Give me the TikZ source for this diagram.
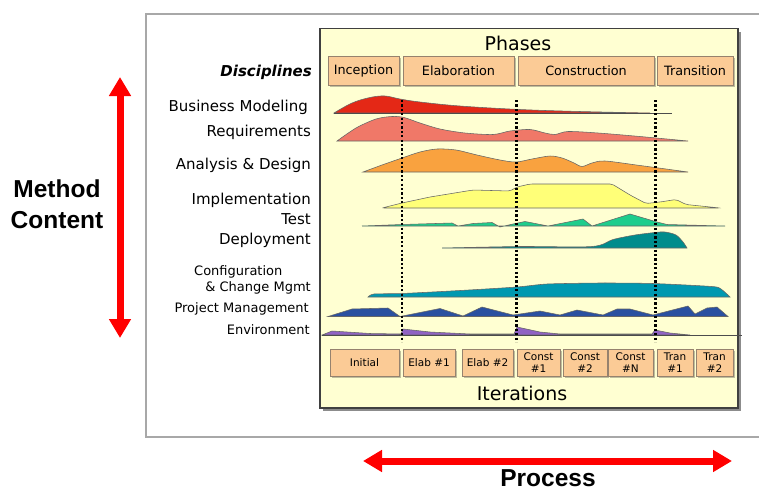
\documentclass[tikz,border=0pt]{standalone}
\usepackage{fontspec}
\setmainfont{DejaVu Sans}
\newfontfamily\arialfont{Liberation Sans}
\usetikzlibrary{arrows.meta,shadows}

\definecolor{panelfill}{RGB}{255,255,210}
\definecolor{peach}{RGB}{251,203,150}
\definecolor{boxedge}{RGB}{150,130,110}
\definecolor{framegray}{RGB}{168,168,168}
\definecolor{cBM}{RGB}{228,40,22}
\definecolor{cReq}{RGB}{240,120,104}
\definecolor{cAD}{RGB}{249,162,63}
\definecolor{cImpl}{RGB}{255,255,120}
\definecolor{cTest}{RGB}{30,205,140}
\definecolor{cDep}{RGB}{0,140,140}
\definecolor{cCfg}{RGB}{0,152,176}
\definecolor{cPM}{RGB}{42,80,160}
\definecolor{cEnv}{RGB}{144,98,196}
\definecolor{bigred}{RGB}{255,0,0}

\begin{document}
\begin{tikzpicture}[x=1pt,y=-1pt,
  phasebox/.style={draw=boxedge, line width=0.8pt, fill=peach, inner sep=0pt, minimum height=29pt,
    font=\fontsize{12.8}{14}\selectfont,
    drop shadow={shadow xshift=2pt, shadow yshift=-2pt, fill=black, opacity=0.25}},
  iterbox/.style={phasebox, minimum height=27pt, font=\fontsize{10.5}{12.5}\selectfont, align=center},
  disc/.style={anchor=base east, inner sep=0pt, font=\fontsize{15}{18}\selectfont},
  discsmall/.style={disc, font=\fontsize{13}{15}\selectfont},
  wave/.style={draw=black!60, line width=0.55pt},
  vdots/.style={line width=2.4pt, dash pattern=on 2.2pt off 2.2pt},
  bigarrow/.style={draw=bigred, line width=7pt, {Triangle[width=21pt,length=19pt]}-{Triangle[width=21pt,length=19pt]}},
  bigtext/.style={font=\arialfont\bfseries\fontsize{24.5}{28}\selectfont, inner sep=0pt, anchor=base}
]
\useasboundingbox (0,0) rectangle (759,491);
\fill[white] (0,0) rectangle (759,491);

% outer frame
\draw[framegray, line width=2pt] (759,14) -- (146,14) -- (146,437) -- (759,437);

% panel
\node[draw=black!75, line width=1.2pt, fill=panelfill, minimum width=418pt, minimum height=379.5pt, inner sep=0pt,
  drop shadow={shadow xshift=3pt, shadow yshift=-3pt, fill=black, opacity=0.45}] (panel) at (529,218.25) {};

\node (phases) at (518,43) {\fontsize{19}{22}\selectfont Phases};
\node (iters) at (522,393) {\fontsize{19}{22}\selectfont Iterations};

% discipline curves
\filldraw[wave, fill=cBM] plot[smooth, tension=0.6] coordinates {(334,113) (352,103) (370,97.5) (385,96) (400,99) (420,102) (460,106) (520,109.5) (580,111.5) (650,113)} -- cycle;
\draw[black!70, line width=0.6pt] (334,113) -- (672,113);

\filldraw[wave, fill=cReq] plot[smooth, tension=0.5] coordinates {(337,141) (356,128) (376,119) (392,116.5) (404,117.5) (420,123) (440,129) (465,133) (493,134.5) (510,131) (530,129.5) (545,133) (555,134.5) (568,131.5) (598,133) (640,136.5) (688,141)} -- cycle;

\filldraw[wave, fill=cAD] plot[smooth, tension=0.5] coordinates {(363,172) (382,165) (402,158) (420,152) (437,149) (456,150) (477,155) (500,160) (516,162) (532,159) (550,156) (562,158) (573,162.5) (582,166.5) (592,163) (605,161) (640,165.5) (688,172)} -- cycle;

\filldraw[wave, fill=cImpl, rounded corners=2pt] (382,208) -- (402,203) -- (430,197) -- (473,190) -- (510,191) -- (517,187) -- (530,184) -- (612,184) -- (630,195) -- (646,203.5) -- (660,202) -- (676,199.5) -- (686,204.5) -- (720,208) -- cycle;

\filldraw[wave, fill=cTest] (362,226) -- (402,224.5) -- (452,223) -- (458,226) -- (473,223.5) -- (492,222.5) -- (500,227) -- (513,224) -- (525,221.5) -- (548,226) -- (583,219) -- (592,226) -- (630,214) -- (657,222) -- (667,224.5) -- (725,226) -- cycle;

\filldraw[wave, fill=cDep] plot[smooth, tension=0.5] coordinates {(442,248) (520,246.5) (592,246.5) (613,239.5) (635,235) (655,232.5) (665,232) (676,235) (683,242) (687,248)} -- cycle;

\filldraw[wave, fill=cCfg] plot[smooth, tension=0.4] coordinates {(368,297) (374,294) (402,293.5) (460,290.5) (517,287) (547,284) (600,283) (653,283.5) (712,286.5) (721,289) (730,297)} -- cycle;

\filldraw[wave, fill=cPM] (328,316.5) -- (352,309) -- (388,308) -- (400,316.5) -- (440,308.5) -- (463,316) -- (482,307) -- (513,315) -- (540,311) -- (560,315) -- (577,310) -- (603,315) -- (617,309) -- (630,309) -- (653,315) -- (688,306) -- (695,314) -- (707,308) -- (717,307) -- (728,316.5) -- cycle;

\filldraw[wave, fill=cEnv] (322,335) -- (332,331) -- (370,333.5) -- (401,334) -- (403,329) -- (430,332) -- (470,334) -- (514,334) -- (517,327) -- (540,332) -- (560,334) -- (652,334) -- (655,330) -- (670,333) -- (690,335) -- cycle;
\draw[black!70, line width=0.6pt] (322,335) -- (742,335);

% milestone dotted lines
\draw[vdots] (402,100) -- (402,342);
\draw[vdots] (516.5,100) -- (516.5,342);
\draw[vdots] (655.5,100) -- (655.5,342);

% phases
\node[phasebox, minimum width=71pt] (inc) at (363.5,70.5) {Inception};
\node[phasebox, minimum width=111pt] (ela) at (458.5,70.5) {Elaboration};
\node[phasebox, minimum width=136pt] (con) at (586,70.5) {Construction};
\node[phasebox, minimum width=76pt] (tra) at (695,70.5) {Transition};

% iterations
\node[iterbox, minimum width=69pt] (it1) at (364.5,362.5) {Initial};
\node[iterbox, minimum width=52pt] (it2) at (429,362.5) {Elab \#1};
\node[iterbox, minimum width=51pt] (it3) at (487.5,362.5) {Elab \#2};
\node[iterbox, minimum width=43pt] (it4) at (538.5,362.5) {Const\\\#1};
\node[iterbox, minimum width=44pt] (it5) at (585,362.5) {Const\\\#2};
\node[iterbox, minimum width=45pt] (it6) at (630.5,362.5) {Const\\\#N};
\node[iterbox, minimum width=36pt] (it7) at (675,362.5) {Tran\\\#1};
\node[iterbox, minimum width=37pt] (it8) at (714.5,362.5) {Tran\\\#2};

% discipline labels
\node[disc, font=\bfseries\itshape\fontsize{15}{18}\selectfont] (disciplines) at (312,76.5) {Disciplines};
\node[disc] (bm) at (308,111) {Business Modeling};
\node[disc] (req) at (311,136.5) {Requirements};
\node[disc] (ad) at (311,169) {Analysis \& Design};
\node[disc] (impl) at (311,204.3) {Implementation};
\node[disc] (test) at (311,224.3) {Test};
\node[disc] (dep) at (311,244) {Deployment};
\node[discsmall, anchor=base west] (cfg) at (194,275.7) {Configuration};
\node[discsmall] (ccm) at (311,291) {\& Change Mgmt};
\node[discsmall] (pm) at (309,312.7) {Project Management};
\node[discsmall] (env) at (310,334.3) {Environment};

% big arrows
\coordinate (mtop) at (120,77);
\coordinate (mbot) at (120,338);
\draw[bigarrow] (mtop) -- (mbot);
\coordinate (pleft) at (363,461);
\coordinate (pright) at (732,461);
\draw[bigarrow] (pleft) -- (pright);

\node[bigtext] (method) at (57,197) {Method};
\node[bigtext] (content) at (57,228) {Content};
\node[bigtext] (process) at (548,486.5) {Process};
\end{tikzpicture}
\end{document}
